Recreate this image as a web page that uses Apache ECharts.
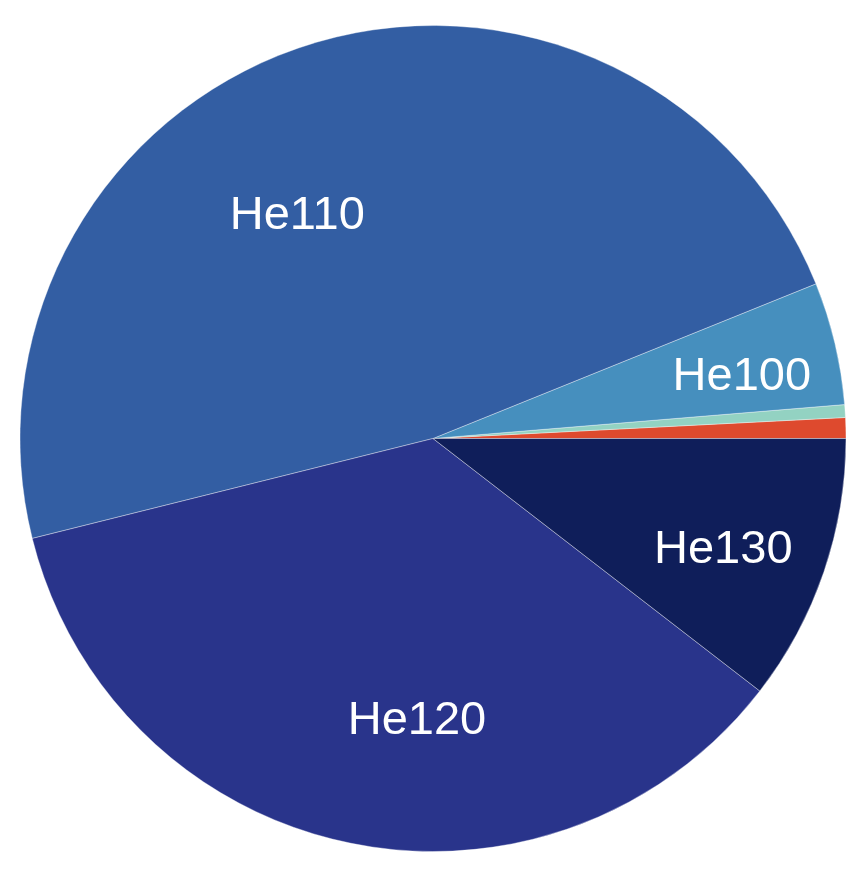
<!DOCTYPE html>
<html>
<head>
<meta charset="utf-8">
<script src="https://cdn.jsdelivr.net/npm/echarts@6/dist/echarts.min.js"></script>
<style>
  html, body { margin: 0; padding: 0; background: #fff; }
  #chart { width: 859px; height: 880px; }
</style>
</head>
<body>
<div id="chart"></div>
<script>
// slices, counter-clockwise from 3 o'clock
const categories = ['He080', 'He090', 'He100', 'He110', 'He120', 'He130']
const shares = [0.81, 0.5, 4.8, 47.78, 35.64, 10.47]
const showLabel = [false, false, true, true, true, true]

const colors = ['#DE4A2E', '#93D2C2', '#468FBE', '#335EA3', '#29348B', '#0F1E5A']
// nudges from the default inside label spot
const labelOffsets = [[0, 0], [0, 0], [105, -13], [-71, -23], [27, 78], [92, 44]]

const chart = echarts.init(document.getElementById('chart'), null, { renderer: 'canvas' })

const option = {
  animation: false,
  series: [{
    type: 'pie',
    center: [433, 438.5],
    radius: 413,
    startAngle: 0,
    clockwise: false,
    avoidLabelOverlap: false,
    minAngle: 0,
    itemStyle: {
      borderColor: 'rgba(255,255,255,0.6)',
      borderWidth: 0.6
    },
    label: {
      position: 'inside',
      color: '#fff',
      fontSize: 47,
      fontFamily: 'Liberation Sans, Arial, sans-serif',
      formatter: '{b}'
    },
    labelLine: { show: false },
    emphasis: { disabled: true },
    data: categories.map((name, i) => {
      return {
        name,
        value: shares[i],
        itemStyle: { color: colors[i] },
        label: { show: showLabel[i], offset: labelOffsets[i] }
      }
    })
  }]
}

chart.setOption(option)
</script>
</body>
</html>
